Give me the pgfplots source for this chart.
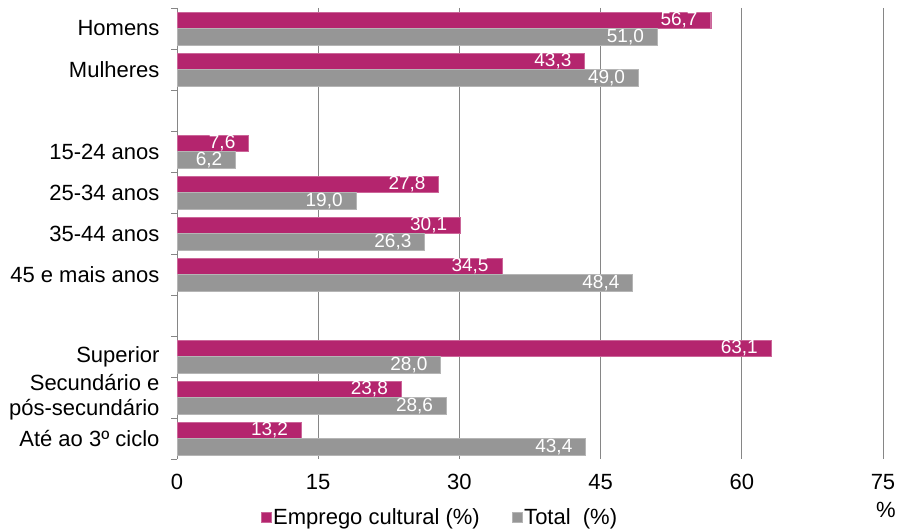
\documentclass[border=0pt]{standalone}
\usepackage{fontspec}
\setmainfont{Liberation Sans}
\usepackage{pgfplots}
\pgfplotsset{compat=1.18}
\definecolor{mag}{RGB}{180,37,110}
\definecolor{grb}{RGB}{150,150,150}
\definecolor{gridc}{RGB}{134,134,134}
\begin{document}
\begin{tikzpicture}[font=\fontsize{22bp}{25bp}\selectfont]
\path[use as bounding box] (0bp,0bp) rectangle (900bp,530bp);
\begin{axis}[
  at={(177bp,71bp)}, anchor=south west,
  scale only axis, width=706bp, height=451bp,
  xmin=0, xmax=75, xtick={0,15,...,75},
  ymin=-0.5, ymax=10.5, y dir=reverse,
  ytick={0,1,3,4,5,6,8,9,10},
  yticklabels={Homens, Mulheres, 15-24 anos, 25-34 anos, 35-44 anos, 45 e mais anos, Superior, {Secundário e\hspace{0.28em}\\pós-secundário}, Até ao 3º ciclo},
  yticklabel style={align=right, xshift=-14bp},
  xticklabel style={yshift=-12bp},
  minor ytick={-0.5,0.5,...,10.5},
  major tick length=0pt, minor tick length=6bp,
  tick pos=left,
  minor tick style={gridc, line width=0.8pt},
  xmajorgrids, major grid style={gridc, line width=0.8pt},
  axis line style={draw=none},
  /pgf/number format/assume math mode=true,
  xbar, bar width=0.4,
  nodes near coords={\pgfmathprintnumber[fixed, fixed zerofill, precision=1, use comma]{\pgfplotspointmeta}},
  every node near coord/.append style={anchor=east, text=white, inner sep=0pt, xshift=-13bp, font=\fontsize{19bp}{22bp}\selectfont},
  legend style={at={(0.3725,-0.1286)}, anchor=center, draw=none, fill=none, legend columns=2,
    /tikz/every even column/.append style={column sep=30bp}},
  legend image code/.code={\fill[#1] (0bp,-5bp) rectangle (10bp,5bp);},
  xlabel={\%},
  xlabel style={at={(axis description cs:1.004,-0.113)}, anchor=center},
]
\addplot[fill=mag, draw=mag!70!white, line width=0.4pt, bar shift=-0.2] coordinates {
  (56.7,0) (43.3,1) (7.6,3) (27.8,4) (30.1,5) (34.5,6) (63.1,8) (23.8,9) (13.2,10)};
\addlegendentry{Emprego cultural (\%)}
\addplot[fill=grb, draw=grb!70!white, line width=0.4pt, bar shift=0.2] coordinates {
  (51.0,0) (49.0,1) (6.2,3) (19.0,4) (26.3,5) (48.4,6) (28.0,8) (28.6,9) (43.4,10)};
\addlegendentry{Total~~(\%)}
\end{axis}
\end{tikzpicture}
\end{document}
